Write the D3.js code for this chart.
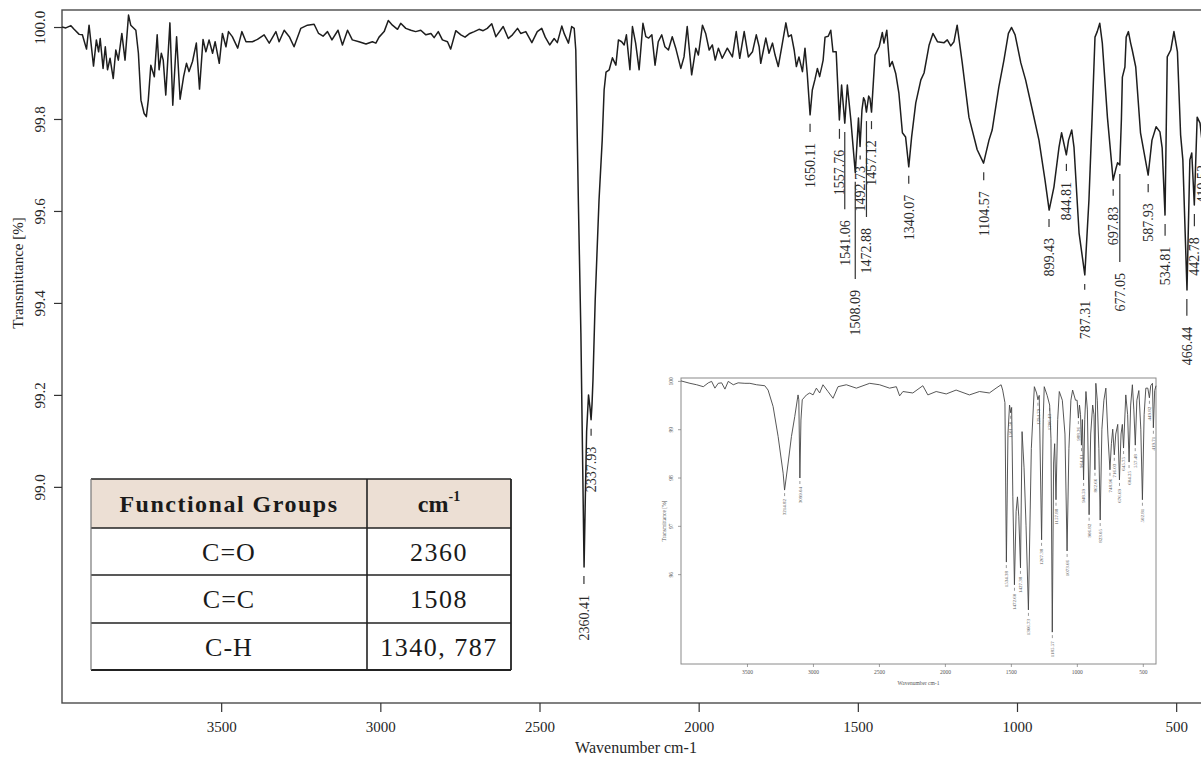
<!DOCTYPE html>
<html><head><meta charset="utf-8">
<script src="https://cdn.jsdelivr.net/npm/d3@7"></script>
<style>html,body{margin:0;padding:0;background:#fff;} svg{display:block;}</style>
</head><body>
<svg id="chart" width="1201" height="757"></svg>
<script>
// ---------------- main spectrum ----------------
const wavenumber = [4000,3988,3972,3962,3946,3936,3923,3915,3901,3892,3885,3880,3871,3864,3857,3849,3839,3831,3823,3812,3802,3791,3784,3768,3760,3752,3742,3735,3729,3721,3710,3701,3695,3688,3682,3674,3661,3652,3640,3629,3618,3609,3601,3590,3578,3568,3557,3548,3538,3527,3519,3506,3496,3485,3477,3465,3448,3435,3422,3402,3386,3365,3349,3328,3318,3302,3286,3271,3250,3229,3208,3194,3180,3166,3152,3133,3119,3103,3088,3067,3045,3025,3014,3004,2988,2975,2962,2946,2936,2920,2904,2889,2873,2857,2841,2831,2818,2805,2789,2779,2763,2747,2734,2719,2705,2690,2677,2664,2650,2637,2614,2598,2585,2569,2559,2543,2524,2507,2493,2482,2468,2454,2444,2430,2422,2409,2399,2391,2386,2378,2370,2365,2360,2355,2352,2346,2341,2338,2335,2332,2325,2313,2303,2297,2291,2281,2271,2260,2252,2242,2234,2227,2216,2208,2198,2187,2175,2166,2157,2147,2137,2127,2116,2106,2095,2083,2072,2056,2046,2036,2022,2009,2001,1988,1978,1967,1957,1948,1938,1926,1910,1894,1882,1871,1857,1844,1831,1819,1810,1805,1789,1779,1768,1760,1750,1739,1726,1718,1709,1700,1693,1685,1674,1666,1659,1650,1643,1635,1627,1620,1609,1603,1593,1585,1578,1568,1558,1551,1541,1533,1522,1508,1498,1493,1487,1482,1478,1473,1466,1462,1457,1446,1433,1423,1418,1409,1400,1392,1381,1371,1360,1350,1340,1331,1318,1302,1292,1276,1264,1250,1229,1219,1208,1198,1188,1172,1151,1125,1105,1088,1078,1057,1041,1027,1017,1006,988,973,952,931,912,899,884,868,860,845,838,828,821,805,787,774,764,755,748,740,732,716,698,690,684,677,672,669,661,657,650,643,638,627,612,588,576,563,551,544,535,528,517,507,496,486,479,466,457,451,443,434,425,419,410,400];
const transmittance = [100.000,99.998,100.003,99.995,99.984,99.983,99.952,100.004,99.915,99.972,99.946,99.975,99.910,99.957,99.907,99.932,99.888,99.950,99.928,99.986,99.928,100.026,100.004,99.993,99.943,99.841,99.812,99.805,99.841,99.917,99.892,99.983,99.907,99.943,99.928,99.852,100.009,99.830,99.979,99.843,99.892,99.921,99.903,99.925,99.965,99.865,99.973,99.946,99.972,99.943,99.968,99.921,99.986,99.957,99.990,99.979,99.954,99.990,99.968,99.968,99.973,99.983,99.965,99.990,99.968,99.993,99.979,99.957,99.997,100.004,100.006,99.986,99.980,99.990,99.972,99.993,99.961,99.993,99.972,99.968,99.963,99.968,99.965,99.978,99.990,100.014,100.004,99.995,100.008,99.997,99.993,99.990,99.993,99.983,99.986,99.977,99.990,99.972,99.968,99.952,99.992,99.983,99.978,99.986,99.990,99.995,99.992,99.997,100.007,99.979,100.001,99.975,99.983,99.997,99.986,99.990,99.966,99.990,99.997,99.978,99.961,99.975,99.966,100.002,99.985,99.965,100.001,99.997,99.950,99.624,99.335,99.080,98.826,99.015,99.120,99.200,99.170,99.146,99.180,99.233,99.407,99.624,99.754,99.863,99.902,99.907,99.933,99.917,99.972,99.968,99.961,99.983,99.907,100.001,99.965,99.907,100.008,99.979,99.976,99.983,99.917,99.968,99.983,99.957,99.950,99.979,99.954,99.910,99.935,100.001,99.896,99.954,99.939,100.004,99.986,99.950,99.961,99.928,99.954,99.932,99.954,99.935,99.990,99.932,99.990,99.935,99.946,99.983,99.957,99.921,99.976,99.943,99.965,99.939,99.914,99.957,100.009,99.979,99.983,99.950,99.914,99.935,99.903,99.954,99.899,99.809,99.863,99.885,99.910,99.892,99.928,99.978,99.980,99.993,99.946,99.946,99.798,99.874,99.791,99.874,99.798,99.683,99.802,99.740,99.820,99.846,99.840,99.815,99.850,99.845,99.815,99.939,99.957,99.988,99.965,99.993,99.914,99.925,99.899,99.856,99.770,99.761,99.696,99.761,99.835,99.885,99.900,99.961,99.986,99.968,99.966,99.972,99.959,99.968,100.004,99.922,99.804,99.733,99.704,99.754,99.776,99.870,99.928,99.986,99.999,99.983,99.922,99.885,99.820,99.754,99.667,99.602,99.652,99.739,99.770,99.722,99.754,99.776,99.739,99.552,99.461,99.624,99.804,99.978,99.990,100.008,99.965,99.804,99.667,99.690,99.705,99.700,99.800,99.891,99.913,99.978,99.990,99.965,99.950,99.913,99.770,99.678,99.754,99.783,99.772,99.737,99.591,99.935,99.950,99.990,99.946,99.765,99.711,99.428,99.711,99.726,99.613,99.804,99.791,99.754,99.820,99.800];

// peak annotations of the main spectrum
const peakWavenumber    = [2360.41,2337.93,1650.11,1557.76,1541.06,1508.09,1492.73,1472.88,1457.12,1340.07,1104.57,899.43,844.81,787.31,697.83,677.05,587.93,534.81,466.44,442.78,419.52];
const peakTransmittance = [98.826,99.146,99.809,99.798,99.791,99.683,99.740,99.815,99.815,99.696,99.704,99.602,99.722,99.461,99.667,99.700,99.678,99.591,99.428,99.613,99.754];
const labelTransmittance= [98.765,99.087,99.748,99.733,99.580,99.428,99.698,99.563,99.754,99.635,99.643,99.541,99.663,99.405,99.609,99.465,99.617,99.522,99.348,99.543,99.700];

const xTickValues = [3500,3000,2500,2000,1500,1000,500];
const yTickValues = [100.0,99.8,99.6,99.4,99.2,99.0];

// ---------------- inset spectrum ----------------
const insetWavenumber = [4000,3932,3881,3831,3793,3768,3743,3718,3692,3667,3642,3604,3567,3516,3478,3427,3365,3340,3302,3264,3226,3215,3188,3163,3138,3113,3107,3099,3091,3081,3049,3024,2999,2974,2949,2924,2886,2848,2810,2747,2671,2570,2495,2419,2368,2343,2318,2243,2167,2129,2066,1990,1915,1814,1738,1663,1612,1574,1562,1545,1534,1522,1510,1501,1494,1485,1473,1460,1450,1440,1427,1415,1400,1385,1367,1345,1322,1305,1295,1285,1267,1255,1247,1225,1206,1196,1186,1176,1168,1158,1145,1133,1110,1090,1074,1060,1045,1032,1010,998,988,980,972,965,958,949,940,931,920,907,895,880,870,863,856,845,833,823,810,795,780,765,749,738,728,716,705,690,677,665,655,646,629,615,604,592,579,568,557,545,530,515,503,490,477,462,450,440,427,420,410,400];
const insetTransmittance = [100.00,99.95,99.92,99.88,99.96,99.99,99.85,99.95,99.96,99.83,99.99,99.92,99.96,99.95,99.95,99.92,99.90,99.81,99.47,98.85,98.09,97.74,98.30,98.85,99.26,99.71,99.61,97.99,99.19,99.61,99.71,99.75,99.71,99.85,99.75,99.92,99.78,99.64,99.88,99.92,99.85,99.95,99.92,99.85,99.88,99.69,99.78,99.75,99.90,99.71,99.78,99.73,99.81,99.71,99.78,99.75,99.85,99.92,99.81,99.55,96.25,98.90,99.50,99.34,99.45,97.60,95.78,97.30,97.60,97.20,96.13,98.95,98.20,97.00,95.26,98.60,99.88,99.75,99.61,99.70,96.71,99.20,99.88,99.70,99.50,98.80,94.80,98.30,98.70,97.54,99.20,99.78,99.60,98.90,96.48,98.60,99.60,99.81,99.60,99.60,99.23,99.50,99.30,98.67,99.20,97.95,99.20,99.78,99.40,97.23,98.90,99.50,99.30,98.16,99.95,99.60,98.60,97.12,99.00,99.60,99.85,98.90,98.16,98.70,99.00,98.47,98.90,99.10,97.95,98.90,99.10,98.61,99.71,99.30,98.32,99.50,99.92,99.40,98.67,99.60,99.80,99.00,97.54,99.30,99.85,99.85,99.65,99.90,99.95,99.03,99.80,99.90];
const insetPeakWavenumber = [3214.82,3099.04,1534.38,1501.50,1472.60,1427.38,1366.73,1294.79,1267.38,1206.43,1185.57,1157.88,1073.66,988.26,964.61,948.59,906.82,862.66,823.05,748.96,716.03,676.69,645.75,604.25,557.48,502.81,449.82,419.71];
const insetPeakTransmittance = [97.74,97.99,96.25,99.34,95.78,96.13,95.26,99.61,96.71,99.50,94.80,97.54,96.48,99.23,98.67,97.95,97.23,98.16,97.12,98.16,98.47,97.95,98.61,98.32,98.67,97.54,99.65,99.03];
const insetXTickValues = [3500,3000,2500,2000,1500,1000,500];
const insetYTickValues = [100,99,98,97,96];

// ---------------- table ----------------
const tableHeader = ["Functional Groups", "cm"];
const tableGroups = ["C=O", "C=C", "C-H"];
const tableValues = ["2360", "1508", "1340, 787"];

// =====================================================
const svg = d3.select("#chart");
const FONT = "'Liberation Serif', 'DejaVu Serif', serif";
const ink = "#262626";

const M = {left: 62, top: 10, right: 1208, bottom: 703};
const xs = d3.scaleLinear().domain([4000, 400]).range([M.left, M.right]);
const ys = d3.scaleLinear().domain([98.53, 100.037]).range([M.bottom, M.top]);

svg.append("defs").append("clipPath").attr("id", "plotclip")
  .append("rect").attr("x", M.left).attr("y", M.top)
  .attr("width", M.right - M.left).attr("height", M.bottom - M.top);

// frame
svg.append("rect").attr("x", M.left).attr("y", M.top)
  .attr("width", M.right - M.left).attr("height", M.bottom - M.top)
  .attr("fill", "none").attr("stroke", "#4a4a4a").attr("stroke-width", 1.4);

// x axis
const xAxis = svg.append("g").attr("transform", `translate(0,${M.bottom})`)
  .call(d3.axisBottom(xs).tickValues(xTickValues).tickSize(9).tickSizeOuter(0).tickPadding(9).tickFormat(d3.format("d")));
xAxis.select(".domain").remove();
xAxis.selectAll("line").attr("stroke", "#333").attr("stroke-width", 1.2);
xAxis.selectAll("text").attr("font-family", FONT).attr("font-size", 15).attr("fill", ink);

// y axis
const yAxis = svg.append("g").attr("transform", `translate(${M.left},0)`)
  .call(d3.axisLeft(ys).tickValues(yTickValues).tickSize(8).tickSizeOuter(0).tickFormat(d3.format(".1f")));
yAxis.select(".domain").remove();
yAxis.selectAll("line").attr("stroke", "#333").attr("stroke-width", 1.2);
yAxis.selectAll("text")
  .attr("x", null).attr("dy", null)
  .attr("transform", "translate(-22,0) rotate(-90)")
  .attr("text-anchor", "middle").attr("dy", "0.35em")
  .attr("font-family", FONT).attr("font-size", 15).attr("fill", ink);

// axis titles
svg.append("text").attr("x", 636).attr("y", 753).attr("text-anchor", "middle")
  .attr("font-family", FONT).attr("font-size", 16).attr("fill", ink).text("Wavenumber cm-1");
svg.append("text").attr("transform", "translate(18,273) rotate(-90)").attr("text-anchor", "middle")
  .attr("dy", "0.35em").attr("font-family", FONT).attr("font-size", 15).attr("fill", ink).text("Transmittance [%]");

// spectrum
const mainPts = wavenumber.map((w, i) => [w, transmittance[i]]);
svg.append("path").datum(mainPts).attr("clip-path", "url(#plotclip)")
  .attr("d", d3.line().x(d => xs(d[0])).y(d => ys(d[1])))
  .attr("fill", "none").attr("stroke", "#1e1e1e").attr("stroke-width", 1.5).attr("stroke-linejoin", "round");

// peak labels
const peaks = peakWavenumber.map((w, i) => ({w, t: peakTransmittance[i], lt: labelTransmittance[i]}));
const pg = svg.append("g");
peaks.forEach(p => {
  const x = xs(p.w), yp = ys(p.t), yl = ys(p.lt);
  pg.append("line").attr("x1", x).attr("x2", x).attr("y1", yp + 9).attr("y2", Math.max(yp + 13, yl - 11))
    .attr("stroke", "#333").attr("stroke-width", 1.2);
  pg.append("text").attr("transform", `translate(${x},${yl}) rotate(-90)`)
    .attr("text-anchor", "end").attr("dy", "0.35em")
    .attr("font-family", FONT).attr("font-size", 14).attr("fill", "#2a2a2a")
    .text(d3.format(".2f")(p.w));
});

// ---------------- inset ----------------
const I = {left: 681, top: 378, right: 1156, bottom: 664};
const xi = d3.scaleLinear().domain([4000, 400]).range([I.left, I.right]);
const yi = d3.scaleLinear().domain([94.14, 100.06]).range([I.bottom, I.top]);
const ig = svg.append("g");
ig.append("rect").attr("x", I.left).attr("y", I.top).attr("width", I.right - I.left).attr("height", I.bottom - I.top)
  .attr("fill", "#fff").attr("stroke", "#8a8a8a").attr("stroke-width", 1);
const ixa = ig.append("g").attr("transform", `translate(0,${I.bottom})`)
  .call(d3.axisBottom(xi).tickValues(insetXTickValues).tickSize(3).tickSizeOuter(0).tickPadding(3).tickFormat(d3.format("d")));
ixa.select(".domain").remove();
ixa.selectAll("line").attr("stroke", "#777").attr("stroke-width", 0.7);
ixa.selectAll("text").attr("font-family", FONT).attr("font-size", 5.5).attr("fill", "#555");
const iya = ig.append("g").attr("transform", `translate(${I.left},0)`)
  .call(d3.axisLeft(yi).tickValues(insetYTickValues).tickSize(3).tickSizeOuter(0).tickFormat(d3.format("d")));
iya.select(".domain").remove();
iya.selectAll("line").attr("stroke", "#777").attr("stroke-width", 0.7);
iya.selectAll("text").attr("x", null).attr("dy", null)
  .attr("transform", "translate(-10,0) rotate(-90)").attr("text-anchor", "middle").attr("dy", "0.35em")
  .attr("font-family", FONT).attr("font-size", 5.5).attr("fill", "#555");
ig.append("text").attr("x", (I.left + I.right) / 2).attr("y", 685).attr("text-anchor", "middle")
  .attr("font-family", FONT).attr("font-size", 5.5).attr("fill", "#555").text("Wavenumber cm-1");
ig.append("text").attr("transform", `translate(664,${(I.top + I.bottom) / 2}) rotate(-90)`).attr("text-anchor", "middle")
  .attr("dy", "0.35em").attr("font-family", FONT).attr("font-size", 5.5).attr("fill", "#555").text("Transmittance [%]");
const insetPts = insetWavenumber.map((w, i) => [w, insetTransmittance[i]]);
ig.append("path").datum(insetPts)
  .attr("d", d3.line().x(d => xi(d[0])).y(d => yi(d[1])))
  .attr("fill", "none").attr("stroke", "#444").attr("stroke-width", 0.9).attr("stroke-linejoin", "round");
insetPeakWavenumber.forEach((w, i) => {
  const x = xi(w), yp = yi(insetPeakTransmittance[i]);
  ig.append("line").attr("x1", x).attr("x2", x).attr("y1", yp + 3).attr("y2", yp + 6)
    .attr("stroke", "#555").attr("stroke-width", 0.6);
  ig.append("text").attr("transform", `translate(${x},${yp + 9}) rotate(-90)`)
    .attr("text-anchor", "end").attr("dy", "0.35em")
    .attr("font-family", FONT).attr("font-size", 5).attr("fill", "#555")
    .text(d3.format(".2f")(w));
});

// ---------------- table ----------------
const T = {x0: 91, x1: 367, x2: 511, rows: [479, 528, 575, 623, 670]};
const tg = svg.append("g");
tg.append("rect").attr("x", T.x0).attr("y", T.rows[0]).attr("width", T.x2 - T.x0).attr("height", T.rows[1] - T.rows[0])
  .attr("fill", "#ecdfd4");
tg.append("rect").attr("x", T.x0).attr("y", T.rows[1]).attr("width", T.x2 - T.x0).attr("height", T.rows[4] - T.rows[1])
  .attr("fill", "#fff");
T.rows.forEach((y, i) => {
  tg.append("line").attr("x1", T.x0).attr("x2", T.x2).attr("y1", y).attr("y2", y)
    .attr("stroke", "#222").attr("stroke-width", i === 4 ? 2.2 : 1.4);
});
[[T.x0, 1.2, "#777"], [T.x1, 1.6, "#222"], [T.x2, 1.8, "#222"]].forEach(([x, w, c]) => {
  tg.append("line").attr("x1", x).attr("x2", x).attr("y1", T.rows[0]).attr("y2", T.rows[4])
    .attr("stroke", c).attr("stroke-width", w);
});
const c1 = (T.x0 + T.x1) / 2, c2 = (T.x1 + T.x2) / 2;
tg.append("text").attr("x", c1).attr("y", (T.rows[0] + T.rows[1]) / 2).attr("dy", "0.35em")
  .attr("text-anchor", "middle").attr("font-family", FONT).attr("font-size", 24).attr("font-weight", "bold")
  .attr("letter-spacing", 1.5).attr("fill", "#1a1a1a").text(tableHeader[0]);
const cmT = tg.append("text").attr("x", c2).attr("y", (T.rows[0] + T.rows[1]) / 2).attr("dy", "0.35em")
  .attr("text-anchor", "middle").attr("font-family", FONT).attr("font-size", 24).attr("font-weight", "bold")
  .attr("fill", "#1a1a1a");
cmT.append("tspan").text(tableHeader[1]);
cmT.append("tspan").attr("dy", "-0.75em").attr("font-size", 14).text("-1");
tableGroups.forEach((g, i) => {
  const yc = (T.rows[i + 1] + T.rows[i + 2]) / 2;
  tg.append("text").attr("x", c1).attr("y", yc).attr("dy", "0.36em").attr("text-anchor", "middle")
    .attr("font-family", FONT).attr("font-size", 26).attr("letter-spacing", 1).attr("fill", "#1a1a1a").text(g);
  tg.append("text").attr("x", c2).attr("y", yc).attr("dy", "0.36em").attr("text-anchor", "middle")
    .attr("font-family", FONT).attr("font-size", 26).attr("letter-spacing", 1.5).attr("fill", "#1a1a1a").text(tableValues[i]);
});
</script>
</body></html>
